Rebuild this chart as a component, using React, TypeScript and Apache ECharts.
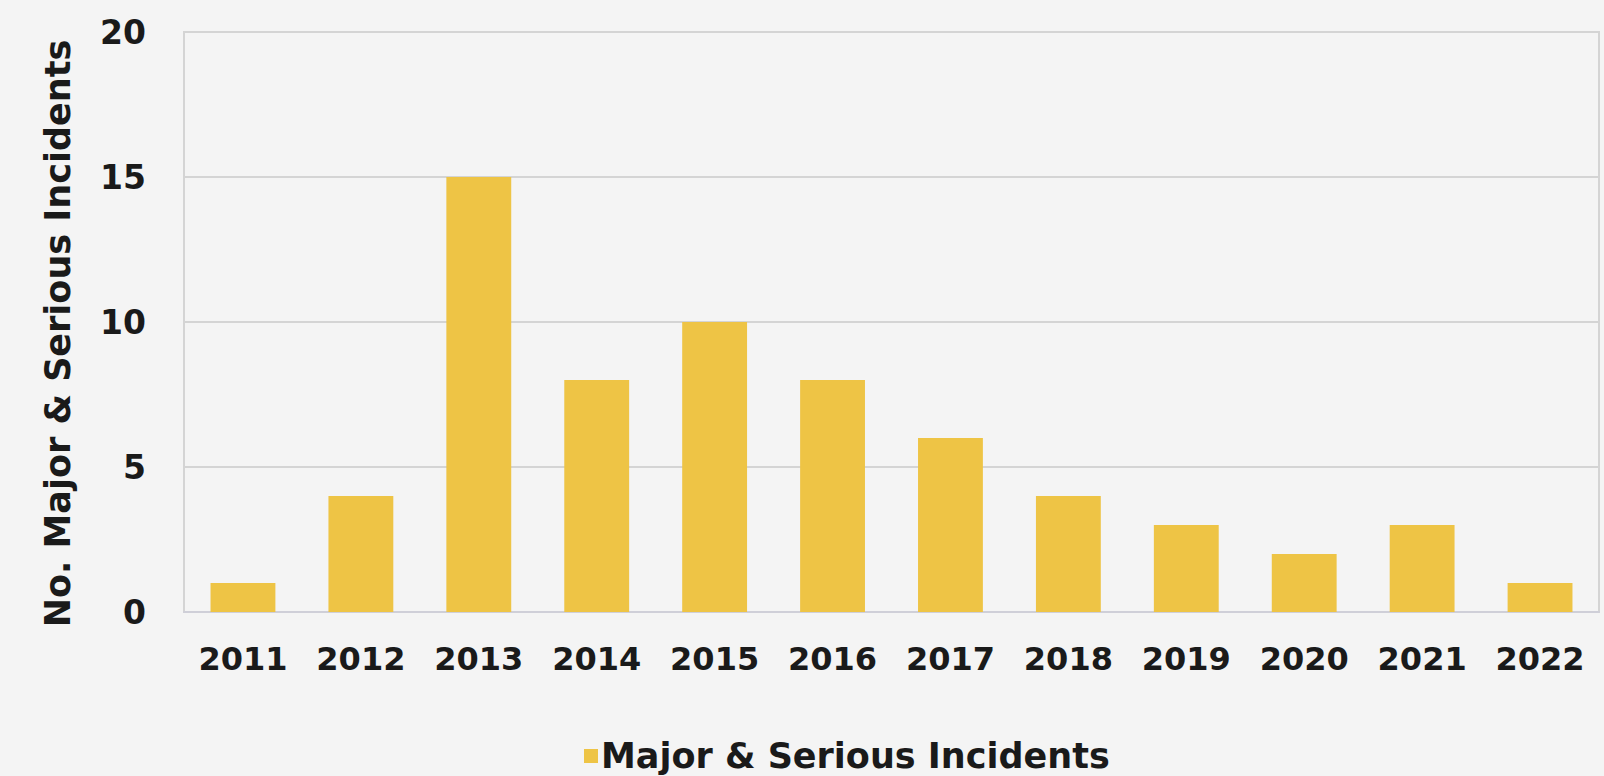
import React, { useEffect, useRef } from "react";
import * as echarts from "echarts";

const years = ["2011", "2012", "2013", "2014", "2015", "2016", "2017", "2018", "2019", "2020", "2021", "2022"];
const incidents = [1, 4, 15, 8, 10, 8, 6, 4, 3, 2, 3, 1];
const seriesName = "Major & Serious Incidents";
const yAxisTitle = "No. Major & Serious Incidents";

export default function App() {
  const ref = useRef<HTMLDivElement>(null);
  useEffect(() => {
    document.body.style.margin = "0";
    document.body.style.background = "#f4f4f4";
    const chart = echarts.init(ref.current!, null, { renderer: "svg" });
    const font = "'DejaVu Sans', sans-serif";
    chart.setOption({
      animation: false,
      backgroundColor: "#f4f4f4",
      grid: {
        left: 184,
        right: 5,
        top: 32,
        bottom: 164,
        show: true,
        borderColor: "#d4d4d4",
        borderWidth: 2,
      },
      legend: {
        data: [seriesName],
        left: 579,
        top: 733,
        icon: "rect",
        itemWidth: 14,
        itemHeight: 14,
        itemGap: 4,
        textStyle: {
          fontFamily: font,
          fontWeight: "bold",
          fontSize: 35,
          lineHeight: 36,
          color: "#1a1a1a",
          padding: [0, 0, 0, -2],
        },
      },
      xAxis: {
        type: "category",
        data: years,
        axisLine: { show: true, lineStyle: { color: "#cfcfd8", width: 2 } },
        axisTick: { show: false },
        axisLabel: {
          interval: 0,
          margin: 31,
          fontFamily: font,
          fontWeight: "bold",
          fontSize: 32,
          color: "#1a1a1a",
        },
      },
      yAxis: {
        type: "value",
        min: 0,
        max: 20,
        interval: 5,
        name: yAxisTitle,
        nameLocation: "middle",
        nameGap: 109,
        nameTextStyle: {
          fontFamily: font,
          fontWeight: "bold",
          fontSize: 35,
          color: "#1a1a1a",
          padding: [0, 23, 0, 0],
        },
        axisLine: { show: false },
        axisTick: { show: false },
        axisLabel: {
          margin: 38,
          fontFamily: font,
          fontWeight: "bold",
          fontSize: 33,
          color: "#1a1a1a",
        },
        splitLine: { lineStyle: { color: "#d4d4d4", width: 2 } },
      },
      series: [
        {
          name: seriesName,
          type: "bar",
          data: incidents,
          barWidth: "55%",
          itemStyle: { color: "#eec445" },
        },
      ],
    });
    return () => chart.dispose();
  }, []);
  return <div ref={ref} style={{ position: "absolute", left: 0, top: 0, width: 1604, height: 776 }} />;
}
